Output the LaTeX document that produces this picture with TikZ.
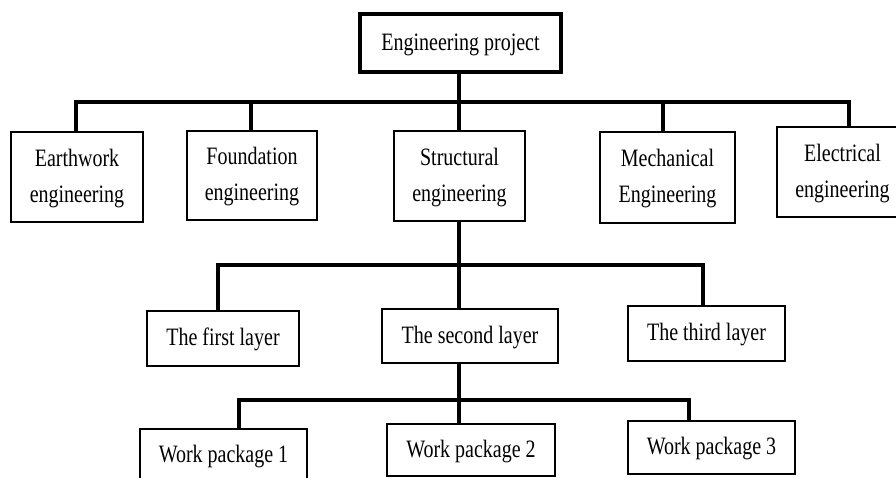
\documentclass[tikz,border=0pt]{standalone}
\usepackage{fontspec}
\usepackage{graphicx}
\setmainfont{Liberation Serif}
\newcommand{\boxtxt}[1]{\scalebox{1}[1.25]{\begin{tabular}{@{}c@{}}#1\end{tabular}}}
\tikzset{
  wbs/.style={draw=black, line width=1.1pt, fill=white, inner sep=0pt,
    font=\fontsize{15}{21.6}\selectfont, text=black},
  topbox/.style={wbs, line width=2.4pt},
  conn/.style={draw=black, line width=2.3pt, line join=miter, line cap=butt}
}
\begin{document}
\begin{tikzpicture}[x=0.75pt,y=-0.75pt]
\useasboundingbox (0,0) rectangle (896,478);
\fill[white] (0,0) rectangle (896,478);
\begin{scope}
\clip (0,0) rectangle (896,478);
% level 0
\node[topbox, minimum width=150.75pt, minimum height=43.5pt] (top) at (460.5,43) {\boxtxt{Engineering project}};
% level 1
\node[wbs, minimum width=99pt, minimum height=67.5pt] (earth) at (77,177) {\boxtxt{Earthwork\\engineering}};
\node[wbs, minimum width=97.5pt, minimum height=66.75pt] (found) at (252,175.5) {\boxtxt{Foundation\\engineering}};
\node[wbs, minimum width=98.25pt, minimum height=67.5pt] (struct) at (459.5,176) {\boxtxt{Structural\\engineering}};
\node[wbs, minimum width=101.25pt, minimum height=68.25pt] (mech) at (667.5,177.5) {\boxtxt{Mechanical\\Engineering}};
\node[wbs, minimum width=98.25pt, minimum height=67.5pt] (elec) at (842.5,172) {\boxtxt{Electrical\\engineering}};
% level 2
\node[wbs, minimum width=114pt, minimum height=41.25pt] (first) at (223,338.5) {\boxtxt{The first layer}};
\node[wbs, minimum width=132pt, minimum height=40.5pt] (second) at (470,336) {\boxtxt{The second layer}};
\node[wbs, minimum width=117.75pt, minimum height=41.25pt] (third) at (706.5,333.5) {\boxtxt{The third layer}};
% level 3
\node[wbs, minimum width=125.25pt, minimum height=39pt] (wp1) at (223.5,455) {\boxtxt{Work package 1}};
\node[wbs, minimum width=126pt, minimum height=39pt] (wp2) at (471,450) {\boxtxt{Work package 2}};
\node[wbs, minimum width=125.25pt, minimum height=39.75pt] (wp3) at (711.5,447.5) {\boxtxt{Work package 3}};
% bus coordinates
\coordinate (a1) at (76,102);
\coordinate (a2) at (251,102);
\coordinate (a3) at (459,102);
\coordinate (a4) at (663,102);
\coordinate (a5) at (849,102);
\coordinate (b1) at (218,265);
\coordinate (b2) at (459,265);
\coordinate (b3) at (703,265);
\coordinate (c1) at (239,400);
\coordinate (c2) at (459,400);
\coordinate (c3) at (689,400);
% level 1 connectors
\draw[conn] (a1 |- earth.north) -- (a1) -- (a5) -- (a5 |- elec.north);
\draw[conn] (a3 |- top.south) -- (a3 |- struct.north);
\draw[conn] (a2) -- (a2 |- found.north);
\draw[conn] (a4) -- (a4 |- mech.north);
% level 2 connectors
\draw[conn] (b1 |- first.north) -- (b1) -- (b3) -- (b3 |- third.north);
\draw[conn] (b2 |- struct.south) -- (b2 |- second.north);
% level 3 connectors
\draw[conn] (c1 |- wp1.north) -- (c1) -- (c3) -- (c3 |- wp3.north);
\draw[conn] (c2 |- second.south) -- (c2 |- wp2.north);
\end{scope}
\end{tikzpicture}
\end{document}
